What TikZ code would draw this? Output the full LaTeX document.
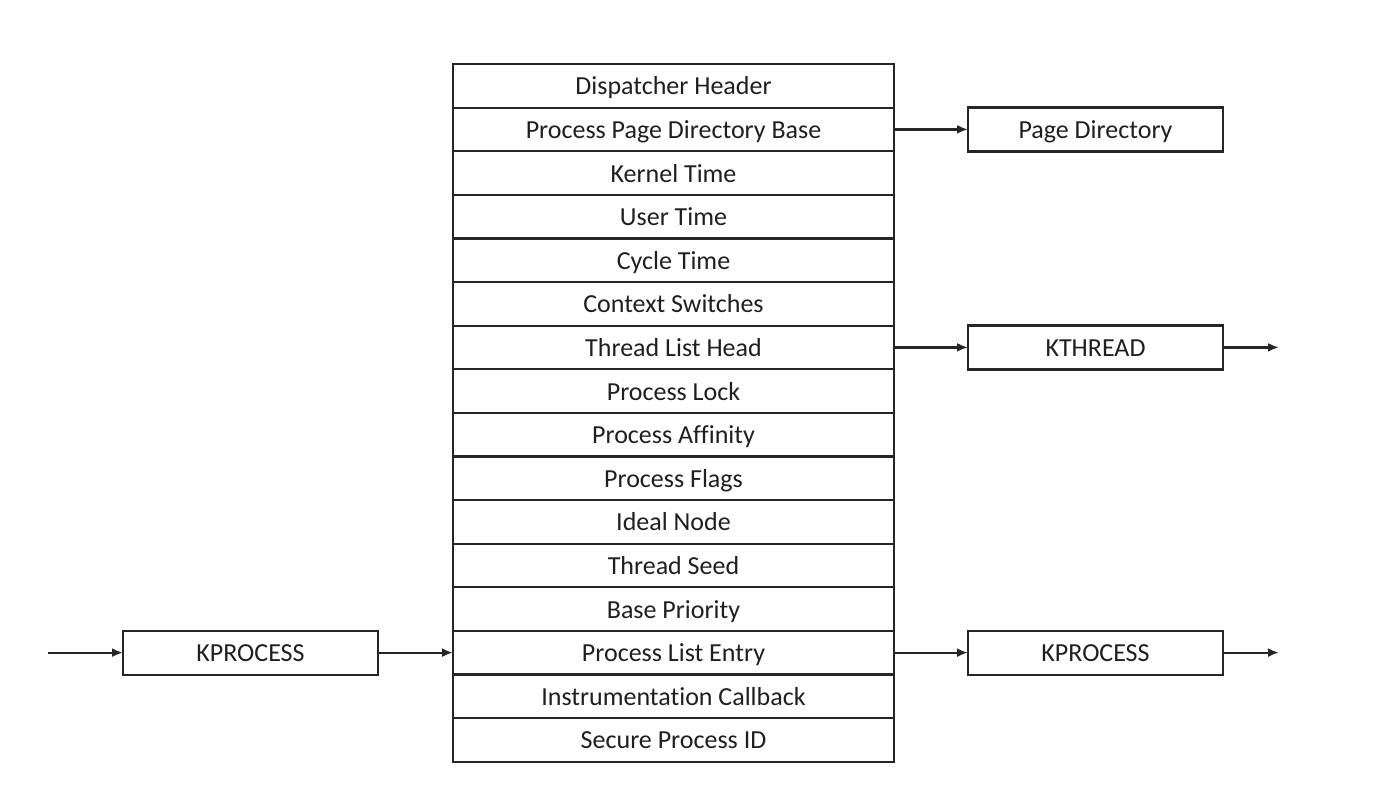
\documentclass[tikz,border=0pt]{standalone}
\usepackage{fontspec}
\setmainfont[Ligatures=NoCommon]{Carlito}
\usetikzlibrary{arrows.meta}
\begin{document}
\begin{tikzpicture}[x=1pt,y=-1pt,
  every node/.style={font=\fontsize{26}{30}\selectfont, text=black!88, inner sep=0pt, outer sep=0pt, text height=20pt, text depth=2pt},
  cell/.style={draw=black!85, line width=2.2pt, minimum width=441pt, minimum height=43.6pt, anchor=north west},
  sidebox/.style={draw=black!85, line width=2.2pt, minimum width=255pt, minimum height=44pt},
  link/.style={draw=black!85, line width=2.2pt, -{Latex[length=11pt,width=9pt]}}]
\useasboundingbox (0,0) rectangle (1400,790);
\foreach \t [count=\i] in {Dispatcher Header, Process Page Directory Base, Kernel Time, User Time, Cycle Time, Context Switches, Thread List Head, Process Lock, Process Affinity, Process Flags, Ideal Node, Thread Seed, Base Priority, Process List Entry, Instrumentation Callback, Secure Process ID}
  \node[cell] (r\i) at (453, {64+(\i-1)*43.6}) {\t};
\node[sidebox, anchor=west] (pd) at ([xshift=74pt]r2.east) {Page Directory};
\node[sidebox, anchor=west] (kt) at ([xshift=74pt]r7.east) {KTHREAD};
\node[sidebox, anchor=west] (kp2) at ([xshift=74pt]r14.east) {KPROCESS};
\node[sidebox, anchor=east] (kp1) at ([xshift=-75pt]r14.west) {KPROCESS};
\coordinate (ktout) at ([xshift=56pt]kt.east);
\coordinate (kpout) at ([xshift=56pt]kp2.east);
\coordinate (kpin) at ([xshift=-75pt]kp1.west);
\draw[link] (r2.east) -- (pd.west);
\draw[link] (r7.east) -- (kt.west);
\draw[link] (kt.east) -- (ktout);
\draw[link] (r14.east) -- (kp2.west);
\draw[link] (kp2.east) -- (kpout);
\draw[link] (kpin) -- (kp1.west);
\draw[link] (kp1.east) -- (r14.west);
\end{tikzpicture}
\end{document}
